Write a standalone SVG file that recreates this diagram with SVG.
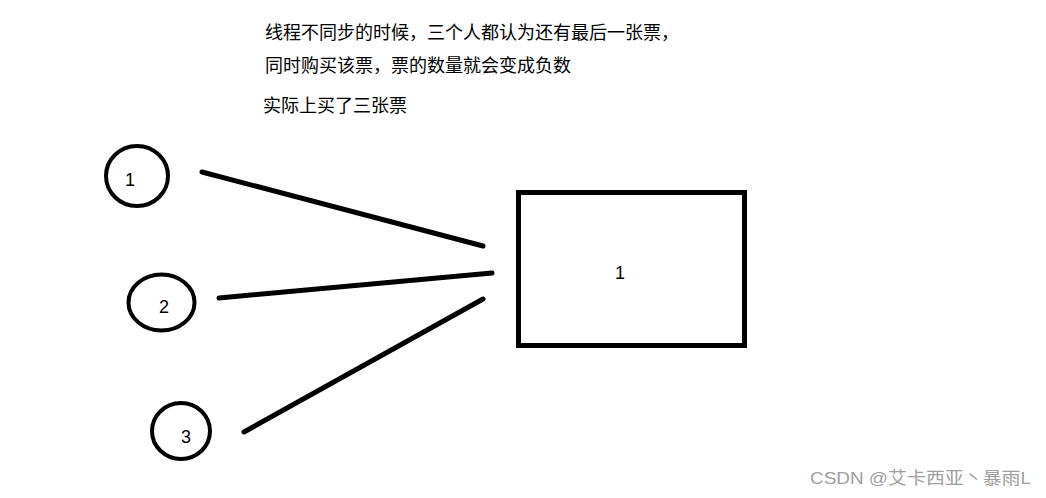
<svg xmlns="http://www.w3.org/2000/svg" width="1046" height="498" viewBox="0 0 1046 498">
<style>
.txt{font-family:"Liberation Sans","Noto Sans CJK SC",sans-serif;fill:#000}
.cn{font-family:"Noto Sans CJK SC",sans-serif;font-size:18px;fill:#000}
.num{font-size:18px}
.shape{fill:none;stroke:#000;stroke-width:4}
.conn{stroke:#000;stroke-width:5;stroke-linecap:round}
.wm{font-family:"Liberation Sans","Noto Sans CJK SC",sans-serif;font-size:17px;fill:#a0a0a0}
</style>
<rect width="1046" height="498" fill="#fff"/>
<g id="notes">
<text class="cn" x="265" y="39">线程不同步的时候，三个人都认为还有最后一张票，</text>
<text class="cn" x="265" y="72">同时购买该票，票的数量就会变成负数</text>
<text class="cn" x="263" y="112">实际上买了三张票</text>
</g>
<g id="connectors">
<line class="conn" x1="202" y1="172" x2="483" y2="246"/>
<line class="conn" x1="219" y1="298" x2="492" y2="273"/>
<line class="conn" x1="244" y1="432" x2="483" y2="299"/>
</g>
<g id="node-1">
<ellipse class="shape" cx="137" cy="176" rx="31" ry="30"/>
<text class="txt num" x="130" y="186" text-anchor="middle">1</text>
</g>
<g id="node-2">
<ellipse class="shape" cx="161.5" cy="302.5" rx="33" ry="28"/>
<text class="txt num" x="164" y="313" text-anchor="middle">2</text>
</g>
<g id="node-3">
<ellipse class="shape" cx="181" cy="431" rx="29" ry="28"/>
<text class="txt num" x="186" y="443" text-anchor="middle">3</text>
</g>
<g id="ticket">
<rect x="518.5" y="192.5" width="226" height="153" fill="none" stroke="#000" stroke-width="5"/>
<text class="txt num" x="620" y="279" text-anchor="middle">1</text>
</g>
<text class="wm" x="810" y="484" textLength="221" lengthAdjust="spacingAndGlyphs">CSDN @艾卡西亚丶暴雨L</text>
</svg>
